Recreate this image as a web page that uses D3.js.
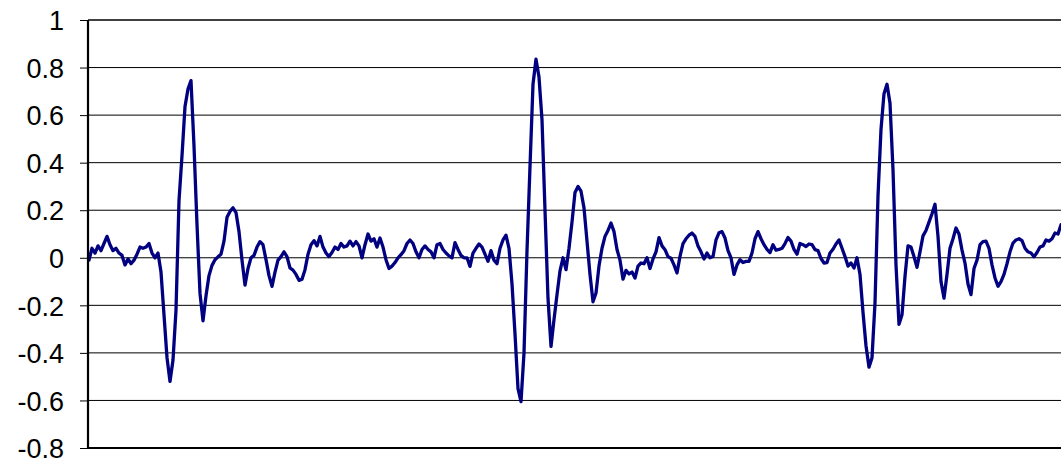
<!DOCTYPE html>
<html>
<head>
<meta charset="utf-8">
<script src="https://cdn.jsdelivr.net/npm/d3@7"></script>
<style>
  html, body { margin: 0; padding: 0; background: #fff; }
  svg { display: block; }
</style>
</head>
<body>
<svg id="chart" width="1061" height="459"></svg>
<script>
// Y axis ticks
const yTicks = [-0.8, -0.6, -0.4, -0.2, 0, 0.2, 0.4, 0.6, 0.8, 1];
const yTickLabels = ["-0.8", "-0.6", "-0.4", "-0.2", "0", "0.2", "0.4", "0.6", "0.8", "1"];

// ECG trace, uniformly sampled (mV)
const signal = [
  -0.01, 0.04, 0.02, 0.05, 0.03, 0.06, 0.09, 0.055, 0.03, 0.04,
  0.02, 0.01, -0.03, -0.005, -0.025, -0.01, 0.015, 0.045, 0.04, 0.045,
  0.06, 0.02, 0.0, 0.02, -0.06, -0.24, -0.42, -0.52, -0.43, -0.22,
  0.24, 0.43, 0.636, 0.71, 0.745, 0.47, 0.14, -0.15, -0.265, -0.16,
  -0.075, -0.032, -0.008, 0.004, 0.015, 0.07, 0.17, 0.195, 0.21, 0.19,
  0.11, -0.01, -0.115, -0.045, 0.0, 0.01, 0.045, 0.068, 0.055, -0.008,
  -0.075, -0.12, -0.06, -0.01, 0.005, 0.025, 0.005, -0.043, -0.052, -0.07,
  -0.095, -0.09, -0.05, 0.015, 0.055, 0.072, 0.05, 0.09, 0.045, 0.02,
  0.005, 0.022, 0.045, 0.035, 0.06, 0.045, 0.05, 0.07, 0.05, 0.068,
  0.05, 0.0, 0.055, 0.1, 0.07, 0.08, 0.045, 0.083, 0.045, -0.008,
  -0.045, -0.035, -0.02, 0.0, 0.013, 0.03, 0.06, 0.075, 0.06, 0.025,
  0.0, 0.035, 0.05, 0.035, 0.025, 0.0, 0.055, 0.06, 0.035, 0.02,
  0.008, 0.0, 0.064, 0.035, 0.01, 0.0, 0.0, -0.036, 0.02, 0.04,
  0.058, 0.045, 0.015, -0.015, 0.03, -0.01, -0.025, 0.04, 0.075, 0.095,
  0.04, -0.11, -0.32, -0.55, -0.605, -0.4, 0.03, 0.384, 0.73, 0.835,
  0.76, 0.58, 0.2, -0.17, -0.373, -0.26, -0.155, -0.055, 0.0, -0.05,
  0.04, 0.15, 0.275, 0.3, 0.28, 0.21, 0.07, -0.07, -0.185, -0.148,
  -0.035, 0.04, 0.09, 0.115, 0.146, 0.11, 0.035, -0.01, -0.09, -0.053,
  -0.068, -0.06, -0.085, -0.035, -0.022, -0.025, 0.0, -0.045, -0.005, 0.025,
  0.085, 0.05, 0.034, 0.005, -0.002, -0.03, -0.064, 0.006, 0.06, 0.08,
  0.095, 0.104, 0.09, 0.05, 0.025, -0.005, 0.02, 0.0, 0.005, 0.075,
  0.105, 0.11, 0.083, 0.03, 0.0, -0.07, -0.03, -0.008, -0.02, -0.015,
  -0.015, 0.02, 0.08, 0.11, 0.08, 0.055, 0.035, 0.022, 0.055, 0.032,
  0.035, 0.04, 0.06, 0.085, 0.07, 0.035, 0.015, 0.06, 0.055, 0.047,
  0.058, 0.055, 0.034, 0.03, -0.003, -0.022, -0.02, 0.02, 0.036, 0.058,
  0.075, 0.04, 0.005, -0.035, -0.022, -0.043, 0.0, -0.07, -0.23, -0.37,
  -0.46, -0.42, -0.19, 0.26, 0.54, 0.69, 0.73, 0.65, 0.37, -0.03,
  -0.28, -0.24, -0.078, 0.05, 0.045, 0.005, -0.04, 0.025, 0.092, 0.115,
  0.15, 0.185, 0.225, 0.09, -0.1, -0.17, -0.07, 0.04, 0.08, 0.125,
  0.1, 0.032, -0.022, -0.11, -0.155, -0.045, -0.01, 0.055, 0.068, 0.07,
  0.04, -0.03, -0.085, -0.12, -0.1, -0.07, -0.025, 0.025, 0.062, 0.075,
  0.08, 0.072, 0.04, 0.025, 0.02, 0.004, 0.022, 0.045, 0.05, 0.075,
  0.07, 0.08, 0.104, 0.1, 0.139
];

const svg = d3.select("#chart");
const plot = { left: 88, top: 20, right: 1075, bottom: 448 };

const x = d3.scaleLinear()
  .domain([0, signal.length - 1])
  .range([plot.left + 1, 1061]);

const y = d3.scaleLinear()
  .domain([-0.8, 1])
  .range([plot.bottom, plot.top]);

// Horizontal gridlines
svg.append("g")
  .selectAll("line")
  .data(yTicks.filter(d => d !== -0.8))
  .join("line")
  .attr("x1", plot.left)
  .attr("x2", plot.right)
  .attr("y1", d => y(d))
  .attr("y2", d => y(d))
  .attr("stroke", "#000")
  .attr("stroke-width", d => d === 1 ? 1.6 : 1);

// Y axis with outward ticks
const yAxis = d3.axisLeft(y)
  .tickValues(yTicks)
  .tickFormat((d, i) => yTickLabels[i])
  .tickSize(8)
  .tickPadding(16);

const gy = svg.append("g")
  .attr("transform", `translate(${plot.left},0)`)
  .call(yAxis);
gy.select(".domain").remove();
gy.selectAll(".tick line").attr("stroke", "#000").attr("stroke-width", 1);
gy.selectAll(".tick text")
  .attr("fill", "#000")
  .attr("dy", "0.36em")
  .style("font-family", "'Liberation Sans', Arial, sans-serif")
  .style("font-size", "27px");

// Signal trace
const line = d3.line()
  .x((d, i) => x(i))
  .y(d => y(d));

svg.append("path")
  .datum(signal)
  .attr("d", line)
  .attr("fill", "none")
  .attr("stroke", "#000080")
  .attr("stroke-width", 3.3)
  .attr("stroke-linejoin", "round")
  .attr("stroke-linecap", "round");

// Axis frame lines (left and bottom)
svg.append("line")
  .attr("x1", plot.left).attr("x2", plot.left)
  .attr("y1", plot.top).attr("y2", plot.bottom + 1)
  .attr("stroke", "#000").attr("stroke-width", 2.2);
svg.append("line")
  .attr("x1", plot.left - 1).attr("x2", plot.right)
  .attr("y1", plot.bottom).attr("y2", plot.bottom)
  .attr("stroke", "#000").attr("stroke-width", 2.2);
</script>
</body>
</html>
